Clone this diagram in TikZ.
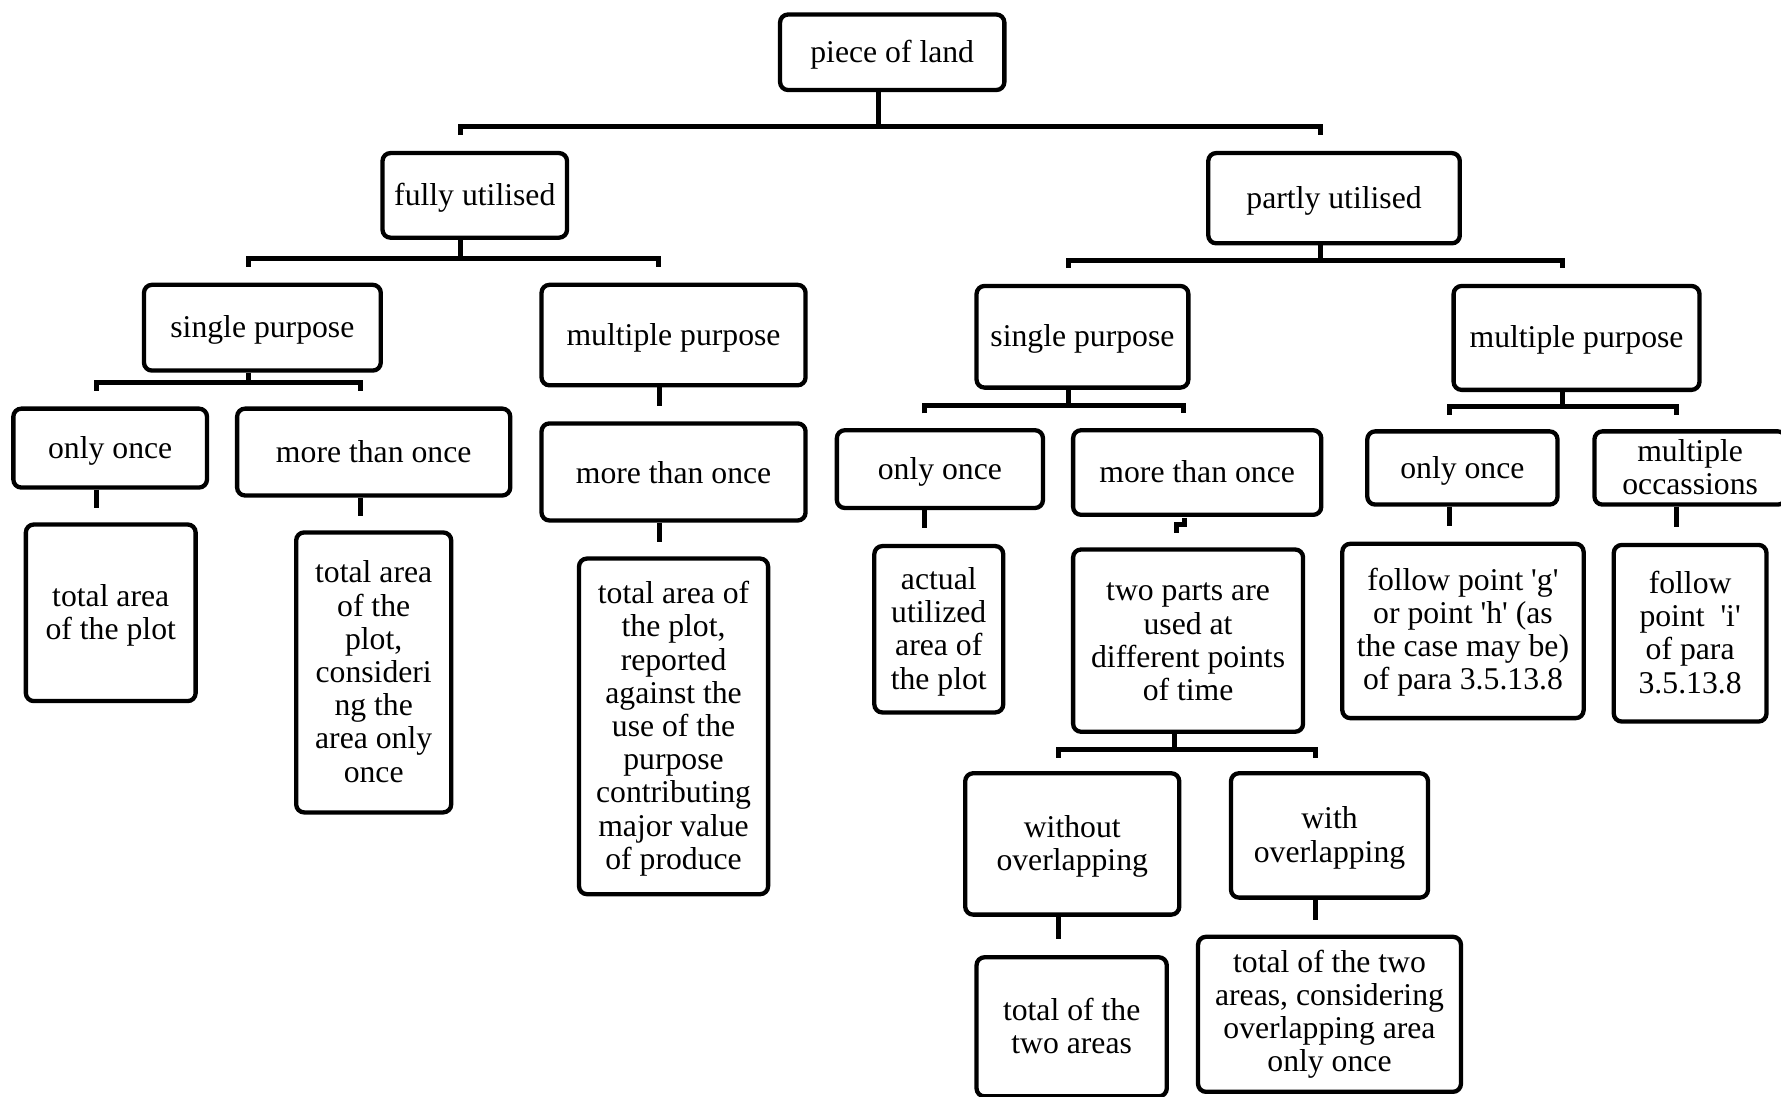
\documentclass[tikz,border=0pt]{standalone}
\usepackage{fontspec}
\setmainfont{Liberation Serif}
\newcommand{\sq}{\textquotesingle}
\newcommand{\tb}[2][-3.4pt]{\raisebox{#1}[\height][\depth]{\begin{tabular}{@{}c@{}}#2\end{tabular}}}
\begin{document}
\begin{tikzpicture}[x=1.1358pt,y=-1.1358pt,
  box/.style={draw, line width=4.3pt, rounded corners=8pt, inner sep=0pt,
    font=\fontsize{31.7}{33.2}\selectfont},
  sz/.style 2 args={minimum width={#1*1.1358pt-4pt}, minimum height={#2*1.1358pt-4pt}},
  conn/.style={line width=5pt, line join=miter}]
\useasboundingbox (0,0) rectangle (1568,965);

% level 0
\node[box, sz={201}{70}] (land) at (785.5,46) {\tb{piece of land}};
% level 1
\node[box, sz={166}{78}] (fully) at (418,172) {\tb{fully utilised}};
\node[box, sz={225}{83}] (partly) at (1174.5,174.5) {\tb{partly utilised}};
% level 2
\node[box, sz={212}{79}] (sp1) at (231,288.5) {\tb{single purpose}};
\node[box, sz={236}{92}] (mp1) at (593,295) {\tb{multiple purpose}};
\node[box, sz={190}{93}] (sp2) at (953,296.5) {\tb{single purpose}};
\node[box, sz={220}{95}] (mp2) at (1388,297.5) {\tb{multiple purpose}};
% level 3
\node[box, sz={174}{73}] (oo1) at (97,394.5) {\tb{only once}};
\node[box, sz={244}{80}] (mto1) at (329,398) {\tb{more than once}};
\node[box, sz={236}{89}] (mto2) at (593,415.5) {\tb[-4.5pt]{more than once}};
\node[box, sz={185}{72}] (oo2) at (827.5,413) {\tb{only once}};
\node[box, sz={222}{78}] (mto3) at (1054,416) {\tb{more than once}};
\node[box, sz={171}{68}] (oo3) at (1287.5,412) {\tb{only once}};
\node[box, sz={172}{68}] (mocc) at (1488,412) {\tb{multiple\\occassions}};
% level 4
\node[box, sz={153}{159}] (t1) at (97.5,539.5) {\tb{total area\\of the plot}};
\node[box, sz={140}{250}] (t2) at (329,592) {\tb{total area\\of the\\plot,\\consideri\\ng the\\area only\\once}};
\node[box, sz={170}{299}] (t3) at (593,639.5) {\tb{total area of\\the plot,\\reported\\against the\\use of the\\purpose\\contributing\\major value\\of produce}};
\node[box, sz={117}{150}] (t4) at (826.5,554) {\tb{actual\\utilized\\area of\\the plot}};
\node[box, sz={206}{164}] (t5) at (1046,564) {\tb{two parts are\\used at\\different points\\of time}};
\node[box, sz={216}{157}] (t6) at (1288,555.5) {\tb[-2.3pt]{follow point \sq g\sq\\or point \sq h\sq{} (as\\the case may be)\\of para 3.5.13.8}};
\node[box, sz={138}{159}] (t7) at (1488,557.5) {\tb{follow\\point\ \ \sq i\sq\\of para\\3.5.13.8}};
% level 5
\node[box, sz={192}{128}] (wo) at (944,743) {\tb{without\\overlapping}};
\node[box, sz={177}{113}] (wi) at (1170.5,735.5) {\tb{with\\overlapping}};
% level 6
\node[box, sz={171}{126}] (b1) at (943.5,904) {\tb{total of the\\two areas}};
\node[box, sz={235}{140}] (b2) at (1170.5,893) {\tb[-1.2pt]{total of the two\\areas, considering\\overlapping area\\only once}};

% forks
\coordinate (j0) at (773,111.5); \coordinate (j0l) at (405,119); \coordinate (j0r) at (1163,119);
\draw[conn] (land.south -| j0) -- (j0);
\draw[conn] (j0l) -- (j0l |- j0) -- (j0r |- j0) -- (j0r);

\coordinate (j1) at (405,228); \coordinate (j1l) at (219,235); \coordinate (j1r) at (580,235);
\draw[conn] (fully.south -| j1) -- (j1);
\draw[conn] (j1l) -- (j1l |- j1) -- (j1r |- j1) -- (j1r);

\coordinate (j2) at (1163,229); \coordinate (j2l) at (941,236); \coordinate (j2r) at (1376,236);
\draw[conn] (partly.south -| j2) -- (j2);
\draw[conn] (j2l) -- (j2l |- j2) -- (j2r |- j2) -- (j2r);

\coordinate (j3) at (219,337); \coordinate (j3l) at (85,344); \coordinate (j3r) at (317,344);
\draw[conn] (sp1.south -| j3) -- (j3);
\draw[conn] (j3l) -- (j3l |- j3) -- (j3r |- j3) -- (j3r);

\coordinate (j4) at (941,357); \coordinate (j4l) at (814,364); \coordinate (j4r) at (1042,364);
\draw[conn] (sp2.south -| j4) -- (j4);
\draw[conn] (j4l) -- (j4l |- j4) -- (j4r |- j4) -- (j4r);

\coordinate (j5) at (1376,358); \coordinate (j5l) at (1276,365); \coordinate (j5r) at (1476,365);
\draw[conn] (mp2.south -| j5) -- (j5);
\draw[conn] (j5l) -- (j5l |- j5) -- (j5r |- j5) -- (j5r);

\coordinate (j6) at (1034,660); \coordinate (j6l) at (932,667); \coordinate (j6r) at (1158,667);
\draw[conn] (t5.south -| j6) -- (j6);
\draw[conn] (j6l) -- (j6l |- j6) -- (j6r |- j6) -- (j6r);

% stubs
\coordinate (s1) at (581,357);  \draw[conn] (mp1.south -| s1) -- (s1);
\coordinate (s2) at (85,447);   \draw[conn] (oo1.south -| s2) -- (s2);
\coordinate (s3) at (317,454);  \draw[conn] (mto1.south -| s3) -- (s3);
\coordinate (s4) at (581,477);  \draw[conn] (mto2.south -| s4) -- (s4);
\coordinate (s5) at (814,465);  \draw[conn] (oo2.south -| s5) -- (s5);
\coordinate (s6) at (1276,463); \draw[conn] (oo3.south -| s6) -- (s6);
\coordinate (s7) at (1476,464); \draw[conn] (mocc.south -| s7) -- (s7);
\coordinate (s8) at (932,827);  \draw[conn] (wo.south -| s8) -- (s8);
\coordinate (s9) at (1158,810); \draw[conn] (wi.south -| s9) -- (s9);
\coordinate (s10a) at (1043,456); \coordinate (s10) at (1036,469);
\draw[conn] (s10a) -- (1043,462) -- (1036,462) -- (s10);
\end{tikzpicture}
\end{document}
